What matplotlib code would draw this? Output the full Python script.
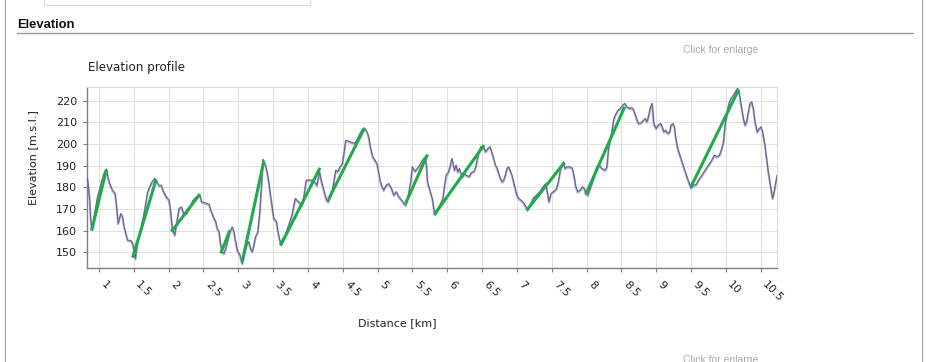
import matplotlib
matplotlib.use("Agg")
import matplotlib.pyplot as plt
from matplotlib.lines import Line2D
from matplotlib.patches import Rectangle
from matplotlib.transforms import offset_copy

# elevation profile
dist_km = [0.832, 0.85, 0.865, 0.88, 0.895, 0.91, 0.928, 0.976, 1.024, 1.072, 1.106,
           1.145, 1.193, 1.232, 1.251, 1.275, 1.314, 1.338, 1.362, 1.386, 1.411, 1.459,
           1.483, 1.507, 1.522, 1.556, 1.604, 1.652, 1.700, 1.749, 1.797, 1.821, 1.860,
           1.894, 1.928, 1.966, 2.005, 2.024, 2.053, 2.087, 2.111, 2.150, 2.184, 2.217,
           2.256, 2.304, 2.353, 2.401, 2.449, 2.473, 2.546, 2.581, 2.605, 2.643, 2.676,
           2.700, 2.724, 2.748, 2.771, 2.795, 2.819, 2.843, 2.881, 2.914, 2.938, 2.962,
           2.986, 3.024, 3.057, 3.081, 3.119, 3.152, 3.176, 3.200, 3.224, 3.248, 3.281,
           3.310, 3.333, 3.357, 3.390, 3.414, 3.438, 3.462, 3.486, 3.510, 3.548, 3.571,
           3.605, 3.629, 3.676, 3.724, 3.771, 3.819, 3.867, 3.914, 3.938, 3.976, 4.033,
           4.081, 4.129, 4.167, 4.196, 4.234, 4.268, 4.292, 4.331, 4.365, 4.399, 4.428,
           4.461, 4.495, 4.524, 4.543, 4.582, 4.630, 4.669, 4.703, 4.737, 4.775, 4.809,
           4.848, 4.872, 4.896, 4.930, 4.969, 4.993, 5.017, 5.041, 5.065, 5.089, 5.123,
           5.162, 5.200, 5.234, 5.268, 5.307, 5.345, 5.379, 5.403, 5.442, 5.476, 5.500,
           5.539, 5.572, 5.606, 5.645, 5.684, 5.703, 5.717, 5.751, 5.790, 5.814, 5.838,
           5.868, 5.906, 5.939, 5.962, 5.986, 6.019, 6.047, 6.066, 6.085, 6.104, 6.127,
           6.151, 6.175, 6.198, 6.222, 6.245, 6.269, 6.292, 6.316, 6.340, 6.363, 6.387,
           6.410, 6.434, 6.458, 6.481, 6.519, 6.552, 6.585, 6.613, 6.632, 6.660, 6.693,
           6.717, 6.741, 6.764, 6.788, 6.811, 6.835, 6.858, 6.882, 6.906, 6.929, 6.953,
           6.976, 7.000, 7.024, 7.057, 7.085, 7.118, 7.151, 7.189, 7.236, 7.283, 7.330,
           7.377, 7.415, 7.440, 7.462, 7.490, 7.524, 7.572, 7.596, 7.620, 7.644, 7.668,
           7.692, 7.716, 7.764, 7.798, 7.827, 7.846, 7.875, 7.909, 7.942, 7.971, 7.990,
           8.019, 8.053, 8.087, 8.115, 8.149, 8.183, 8.221, 8.269, 8.293, 8.317, 8.341,
           8.365, 8.389, 8.413, 8.452, 8.486, 8.519, 8.548, 8.582, 8.615, 8.654, 8.678,
           8.702, 8.726, 8.750, 8.788, 8.822, 8.846, 8.870, 8.894, 8.918, 8.942, 8.952,
           8.966, 9.000, 9.029, 9.063, 9.087, 9.111, 9.135, 9.167, 9.195, 9.214, 9.243,
           9.262, 9.276, 9.300, 9.324, 9.348, 9.371, 9.395, 9.419, 9.443, 9.467, 9.500,
           9.538, 9.576, 9.610, 9.657, 9.705, 9.752, 9.800, 9.833, 9.871, 9.910, 9.943,
           9.967, 9.990, 10.014, 10.038, 10.071, 10.110, 10.138, 10.167, 10.186, 10.205,
           10.229, 10.252, 10.276, 10.300, 10.324, 10.348, 10.371, 10.395, 10.419, 10.452,
           10.481, 10.505, 10.529, 10.562, 10.586, 10.610, 10.633, 10.657, 10.671, 10.690,
           10.719, 10.738]
elev_m = [184.5, 180.0, 175.0, 166.0, 161.0, 162.5, 165.7, 175.0, 181.0, 186.5, 188.5,
          182.6, 178.8, 177.2, 171.8, 163.4, 168.0, 166.5, 161.8, 158.8, 155.7, 155.4,
          154.2, 150.3, 147.2, 154.9, 161.0, 168.8, 178.0, 181.8, 184.2, 183.4, 181.0,
          181.0, 178.0, 175.7, 174.2, 170.3, 161.0, 158.0, 162.6, 170.3, 171.0, 168.0,
          168.0, 171.0, 174.2, 175.7, 176.5, 173.4, 172.6, 172.2, 169.5, 166.5, 164.2,
          161.0, 159.5, 153.4, 150.3, 149.5, 151.8, 154.9, 159.5, 161.8, 159.5, 154.9,
          151.0, 148.8, 144.9, 148.8, 153.4, 154.9, 151.8, 150.3, 153.4, 157.2, 159.5,
          168.8, 181.0, 193.0, 190.3, 187.2, 182.6, 176.5, 171.0, 165.7, 164.2, 159.5,
          154.2, 155.7, 158.0, 162.6, 167.2, 174.9, 173.4, 171.8, 174.9, 183.4, 183.4,
          183.4, 181.0, 187.2, 182.6, 178.0, 174.2, 173.4, 176.5, 181.0, 188.0, 187.2,
          189.5, 191.0, 197.2, 201.8, 201.4, 200.8, 200.3, 201.8, 204.2, 206.5, 207.5,
          205.7, 203.4, 198.8, 194.2, 192.2, 191.0, 186.5, 182.6, 180.3, 178.8, 181.0,
          181.8, 179.5, 176.5, 178.0, 175.7, 174.2, 172.6, 171.8, 176.5, 182.6, 189.5,
          187.5, 188.8, 190.3, 192.6, 194.2, 190.3, 182.6, 178.8, 174.2, 168.8, 168.0,
          170.3, 172.6, 175.0, 181.0, 185.7, 187.2, 190.3, 193.4, 191.0, 188.0, 190.3,
          187.2, 188.8, 186.5, 185.0, 186.5, 185.7, 185.4, 185.0, 186.5, 187.2, 187.5,
          189.5, 193.4, 196.5, 198.8, 198.8, 196.5, 198.0, 198.8, 197.2, 194.2, 190.3,
          188.8, 186.5, 184.2, 182.6, 183.4, 185.7, 188.8, 189.5, 187.5, 185.7, 182.6,
          179.5, 176.5, 175.0, 174.2, 173.4, 171.8, 169.5, 171.8, 175.0, 176.5, 178.0,
          180.3, 181.8, 177.5, 173.4, 177.2, 178.0, 179.5, 182.6, 187.2, 190.3, 191.8,
          188.8, 189.5, 189.5, 188.8, 184.2, 180.3, 178.0, 178.8, 180.3, 179.5, 177.2,
          176.5, 179.5, 182.6, 185.7, 189.5, 190.3, 188.8, 188.0, 189.5, 198.0, 201.8,
          205.7, 211.1, 213.4, 215.7, 216.5, 218.0, 218.8, 217.2, 216.5, 216.8, 215.7,
          213.4, 211.1, 209.5, 210.0, 211.1, 211.8, 210.3, 213.4, 217.2, 218.8, 215.0,
          209.5, 207.2, 208.8, 209.5, 208.0, 205.7, 206.5, 204.9, 205.7, 208.8, 209.5,
          208.0, 204.2, 199.5, 196.5, 194.2, 191.8, 189.5, 187.2, 185.0, 182.6, 179.8,
          181.0, 181.4, 183.4, 185.7, 188.0, 190.3, 192.6, 194.9, 194.2, 194.9, 198.0,
          201.0, 208.8, 213.4, 218.0, 221.0, 222.6, 224.2, 225.7, 224.9, 221.0,
          216.5, 211.8, 208.8, 210.3, 214.9, 218.8, 219.5, 216.5, 210.3, 205.7,
          207.2, 208.0, 205.7, 199.5, 193.4, 187.2, 182.6, 178.0, 175.0, 177.2,
          182.6, 185.7]

# climbs (green segments): start and end
climb_x0 = [0.894, 1.483, 2.039, 2.748, 3.057, 3.605, 4.292, 5.403, 5.811, 7.142, 7.990, 9.500]
climb_y0 = [160.0, 147.5, 159.5, 149.5, 145.7, 153.0, 174.2, 172.6, 167.2, 169.5, 176.8, 180.3]
climb_x1 = [1.106, 1.820, 2.449, 2.881, 3.367, 4.174, 4.809, 5.717, 6.528, 7.683, 8.548, 10.181]
climb_y1 = [188.2, 183.6, 176.9, 160.3, 192.2, 189.0, 207.2, 195.2, 199.5, 191.5, 217.2, 224.9]

xticks = [1, 1.5, 2, 2.5, 3, 3.5, 4, 4.5, 5, 5.5, 6, 6.5, 7, 7.5, 8, 8.5, 9, 9.5, 10, 10.5]
xtick_labels = ["1", "1.5", "2", "2.5", "3", "3.5", "4", "4.5", "5", "5.5", "6", "6.5",
                "7", "7.5", "8", "8.5", "9", "9.5", "10", "10.5"]
yticks = [150, 160, 170, 180, 190, 200, 210, 220]

W, H = 926, 362
fig = plt.figure(figsize=(W / 100, H / 100), dpi=100)
fig.patch.set_facecolor("white")


def fx(px):
    return px / W


def fy(py):
    return 1 - py / H


# page decorations around the chart
fig.add_artist(Rectangle((fx(44), fy(5)), fx(310) - fx(44), fy(-2) - fy(5),
                         transform=fig.transFigure, facecolor="white",
                         edgecolor="#dddddd", lw=0.8))
fig.add_artist(Line2D([fx(5), fx(5)], [0, 1], transform=fig.transFigure,
                      color="#a0a0a0", lw=0.8))
fig.add_artist(Line2D([fx(922), fx(922)], [0, 1], transform=fig.transFigure,
                      color="#a0a0a0", lw=0.8))
fig.text(fx(17), fy(25), "Elevation", family="Liberation Sans", weight="bold",
         fontsize=9.4, ha="left", va="center", color="#111111")
fig.add_artist(Line2D([fx(17), fx(913)], [fy(33), fy(33)], transform=fig.transFigure,
                      color="#999999", lw=1.0))
fig.text(fx(683), fy(50), "Click for enlarge", family="Liberation Sans",
         fontsize=7.5, ha="left", va="center", color="#aaaaaa")
# second link sits at the very bottom and is cut by the page edge, as in the reference
fig.text(fx(683), fy(355), "Click for enlarge", family="Liberation Sans",
         fontsize=7.5, ha="left", va="top", color="#aaaaaa")

# chart
ax = fig.add_axes([fx(87.3), fy(268), 690 / W, 180.7 / H])
ax.set_xlim(0.832, 10.739)
ax.set_ylim(142.75, 226.2)

halo = offset_copy(ax.transData, fig=fig, x=0, y=-1, units="dots")
ax.plot(dist_km, elev_m, color="#aeaadb", lw=1.5, transform=halo, zorder=2)
ax.plot(dist_km, elev_m, color="#66657d", lw=0.75, zorder=3)
for x0, y0, x1, y1 in zip(climb_x0, climb_y0, climb_x1, climb_y1):
    ax.plot([x0, x1], [y0, y1], color="#1fab4a", lw=2.2, solid_capstyle="butt", zorder=4)

ax.set_xticks(xticks)
ax.set_xticklabels(xtick_labels, rotation=-45, ha="left", va="top")
ax.set_yticks(yticks)
ax.grid(True, color="#e2e2e2", lw=0.8)
ax.set_axisbelow(True)
ax.tick_params(axis="both", direction="out", length=3, width=0.8, color="#808080",
               labelsize=8, labelcolor="#222222")
ax.tick_params(axis="x", pad=5)
ax.tick_params(axis="y", pad=4.5)
for side in ["left", "bottom"]:
    ax.spines[side].set_color("#808080")
    ax.spines[side].set_linewidth(1.0)
for side in ["top", "right"]:
    ax.spines[side].set_color("#dddddd")
    ax.spines[side].set_linewidth(0.8)

fig.text(fx(88), fy(67.5), "Elevation profile", fontsize=8.6, ha="left", va="center",
         color="#222222")
fig.text(fx(33.3), fy(158), "Elevation [m.s.l.]", fontsize=8, rotation=90,
         ha="center", va="center", color="#222222")
fig.text(fx(397), fy(323), "Distance [km]", fontsize=8, ha="center", va="center",
         color="#222222")

fig.savefig("out.png", dpi=100)
